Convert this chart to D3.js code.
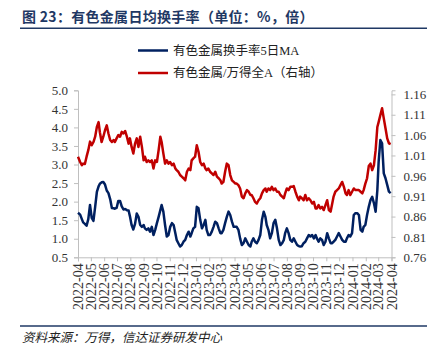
<!DOCTYPE html>
<html>
<head>
<meta charset="utf-8">
<script src="https://cdn.jsdelivr.net/npm/d3@7"></script>
<style>
  html, body { margin: 0; padding: 0; background: #fff; }
  svg { display: block; }
</style>
</head>
<body>
<script>
// trading-day samples
const dates = [
  "2022-04-01","2022-04-06","2022-04-10","2022-04-13","2022-04-17","2022-04-21","2022-04-25","2022-04-29",
  "2022-05-03","2022-05-07","2022-05-11","2022-05-15","2022-05-19","2022-05-22","2022-05-26","2022-05-30",
  "2022-06-03","2022-06-07","2022-06-11","2022-06-15","2022-06-19","2022-06-23","2022-06-26","2022-06-30",
  "2022-07-04","2022-07-08","2022-07-12","2022-07-16","2022-07-20","2022-07-24","2022-07-28","2022-07-31",
  "2022-08-04","2022-08-08","2022-08-12","2022-08-16","2022-08-20","2022-08-24","2022-08-28",
  "2022-09-01","2022-09-04","2022-09-08","2022-09-12","2022-09-16","2022-09-20","2022-09-24","2022-09-28",
  "2022-10-02","2022-10-06","2022-10-10","2022-10-13","2022-10-17","2022-10-21","2022-10-25","2022-10-29",
  "2022-11-02","2022-11-06","2022-11-10","2022-11-14","2022-11-17","2022-11-21","2022-11-25","2022-11-29",
  "2022-12-03","2022-12-07","2022-12-11","2022-12-15","2022-12-19","2022-12-22","2022-12-26","2022-12-30",
  "2023-01-03","2023-01-07","2023-01-11","2023-01-15","2023-01-19","2023-01-23","2023-01-26","2023-01-30",
  "2023-02-03","2023-02-07","2023-02-11","2023-02-15","2023-02-19","2023-02-23","2023-02-27",
  "2023-03-02","2023-03-06","2023-03-10","2023-03-14","2023-03-18","2023-03-22","2023-03-26","2023-03-30",
  "2023-04-03","2023-04-06","2023-04-10","2023-04-14","2023-04-18","2023-04-22","2023-04-26","2023-04-30",
  "2023-05-04","2023-05-08","2023-05-11","2023-05-15","2023-05-19","2023-05-23","2023-05-27","2023-05-31",
  "2023-06-04","2023-06-08","2023-06-12","2023-06-15","2023-06-19","2023-06-23","2023-06-27",
  "2023-07-01","2023-07-05","2023-07-09","2023-07-13","2023-07-17","2023-07-21","2023-07-25","2023-07-28",
  "2023-08-01","2023-08-05","2023-08-09","2023-08-13","2023-08-17","2023-08-21","2023-08-25","2023-08-29",
  "2023-09-01","2023-09-05","2023-09-09","2023-09-13","2023-09-17","2023-09-21","2023-09-25","2023-09-29",
  "2023-10-03","2023-10-07","2023-10-10","2023-10-14","2023-10-18","2023-10-22","2023-10-26","2023-10-30",
  "2023-11-03","2023-11-07","2023-11-11","2023-11-14","2023-11-18","2023-11-22","2023-11-26","2023-11-30",
  "2023-12-04","2023-12-08","2023-12-12","2023-12-16","2023-12-19","2023-12-23","2023-12-27","2023-12-31",
  "2024-01-04","2024-01-08","2024-01-12","2024-01-16","2024-01-20","2024-01-24","2024-01-27","2024-01-31",
  "2024-02-04","2024-02-08","2024-02-12","2024-02-16","2024-02-20","2024-02-24","2024-02-28",
  "2024-03-02","2024-03-06","2024-03-10","2024-03-14","2024-03-18","2024-03-22","2024-03-26","2024-03-30"
];

// 有色金属换手率5日MA (%), left axis
const turnover = [
  1.70,1.65,1.53,1.44,1.40,1.35,1.53,1.91,
  1.56,1.48,1.86,2.26,2.41,2.48,2.52,2.53,
  2.46,2.30,2.23,2.07,1.83,1.82,1.81,1.83,
  2.02,2.02,1.87,1.79,1.80,1.77,1.76,1.61,
  1.37,1.25,1.40,1.68,1.59,1.37,1.32,
  1.37,1.28,1.24,1.28,1.19,1.32,1.10,1.24,
  1.42,1.59,1.77,1.91,1.73,1.37,1.06,1.10,
  1.32,1.42,1.37,1.15,0.97,0.88,0.79,0.83,
  0.92,0.97,1.10,1.19,1.06,1.15,1.28,1.32,
  1.86,1.82,1.51,1.28,1.37,1.51,1.24,1.10,
  1.10,1.19,1.32,1.46,1.42,1.28,1.15,
  1.15,1.24,1.42,1.59,1.73,1.64,1.46,1.32,
  1.32,1.32,1.24,1.01,0.83,0.88,1.01,0.92,
  0.83,0.79,0.92,1.01,0.92,0.88,0.97,1.10,
  1.51,1.73,1.59,1.37,1.24,1.01,1.15,
  1.42,1.51,1.28,0.97,0.83,0.88,0.97,1.15,
  1.28,1.15,0.97,0.92,1.01,0.92,0.83,0.80,
  0.79,0.80,0.88,0.92,1.01,1.10,1.06,1.10,
  1.01,1.10,1.01,0.92,1.01,0.97,0.83,0.92,
  1.15,1.01,0.88,0.88,0.92,0.97,1.06,1.15,
  1.06,0.97,0.92,0.92,1.01,1.10,1.06,1.15,
  1.64,1.69,1.69,1.64,1.24,1.19,1.32,1.37,
  1.64,1.86,2.04,2.13,1.96,1.73,2.31,
  3.07,3.66,3.57,2.76,2.63,2.45,2.27,2.23
];

// 有色金属/万得全A (倍), right axis
const ratio = [
  1.007,0.994,0.986,0.990,0.989,1.007,1.023,1.044,
  1.035,1.043,1.056,1.080,1.092,1.067,1.043,1.056,
  1.072,1.084,1.064,1.048,1.043,1.048,1.043,1.052,
  1.060,1.056,1.068,1.064,1.070,1.056,1.039,1.052,
  1.031,1.015,1.039,1.052,1.031,1.056,1.031,
  0.998,1.007,0.994,0.998,0.994,0.998,0.978,0.998,
  0.994,1.023,1.056,1.043,1.015,0.990,0.998,0.990,
  0.994,0.986,0.990,0.978,0.974,0.970,0.962,0.958,
  0.954,0.949,0.970,0.978,0.974,0.998,1.003,1.007,
  1.035,1.019,0.994,0.986,0.990,0.978,0.974,0.978,
  0.970,0.966,0.962,0.970,0.958,0.954,0.949,
  0.941,0.945,0.970,0.990,0.986,0.962,0.949,0.945,
  0.941,0.941,0.937,0.929,0.909,0.905,0.917,0.925,
  0.921,0.913,0.913,0.905,0.896,0.892,0.900,0.905,
  0.917,0.925,0.929,0.921,0.929,0.925,0.933,
  0.925,0.929,0.921,0.921,0.913,0.909,0.905,0.917,
  0.929,0.925,0.933,0.933,0.935,0.921,0.909,0.900,
  0.909,0.905,0.900,0.913,0.900,0.905,0.900,0.892,
  0.896,0.880,0.880,0.888,0.880,0.884,0.876,0.888,
  0.900,0.876,0.872,0.888,0.909,0.921,0.925,0.929,
  0.937,0.945,0.933,0.917,0.913,0.925,0.913,0.921,
  0.929,0.925,0.925,0.925,0.921,0.917,0.925,0.941,
  0.954,0.984,0.990,0.974,0.986,1.023,1.080,
  1.092,1.109,1.126,1.101,1.077,1.052,1.040,1.038
];

const leftTicks = [0.5, 1.0, 1.5, 2.0, 2.5, 3.0, 3.5, 4.0, 4.5, 5.0];
const rightTicks = [0.76, 0.81, 0.86, 0.91, 0.96, 1.01, 1.06, 1.11, 1.16];
const monthLabels = [
  "2022-04","2022-05","2022-06","2022-07","2022-08","2022-09","2022-10","2022-11","2022-12",
  "2023-01","2023-02","2023-03","2023-04","2023-05","2023-06","2023-07","2023-08","2023-09",
  "2023-10","2023-11","2023-12","2024-01","2024-02","2024-03","2024-04"
];

const seriesNames = ["有色金属换手率5日MA", "有色金属/万得全A（右轴）"];
const blue = "#002060";
const red = "#c00000";

const width = 435, height = 354;
const plot = { left: 78, right: 391.5, top: 90.3, bottom: 257.3 };
const serif = "'Liberation Serif', 'Times New Roman', 'Noto Sans CJK SC', serif";

const parse = d3.timeParse("%Y-%m-%d");
const parseMonth = d3.timeParse("%Y-%m");

const x = d3.scaleTime()
  .domain([parseMonth(monthLabels[0]), parseMonth(monthLabels[monthLabels.length - 1])])
  .range([plot.left, plot.right]);
const yLeft = d3.scaleLinear().domain([0.5, 5.0]).range([plot.bottom, plot.top]);
const yRight = d3.scaleLinear().domain([0.76, 1.17]).range([plot.bottom, plot.top]);

const svg = d3.select("body").append("svg")
  .attr("width", width)
  .attr("height", height);

svg.append("rect").attr("width", width).attr("height", height).attr("fill", "#fff");

// title + rule
svg.append("text")
  .attr("x", 22)
  .attr("y", 21.5)
  .attr("font-family", "'Noto Sans CJK SC', sans-serif")
  .attr("font-size", 14)
  .attr("font-weight", "bold")
  .attr("letter-spacing", 0.3)
  .attr("fill", "#1f3864")
  .text("图 23：有色金属日均换手率（单位：%，倍）");

svg.append("line")
  .attr("x1", 20).attr("x2", 427)
  .attr("y1", 28.3).attr("y2", 28.3)
  .attr("stroke", "#1f3864")
  .attr("stroke-width", 1.5);

// legend
const legend = svg.append("g").selectAll("g")
  .data(seriesNames)
  .enter()
  .append("g")
  .attr("transform", (d, i) => `translate(138, ${50.5 + i * 22.5})`);

legend.append("line")
  .attr("x1", 0).attr("x2", 30)
  .attr("stroke", (d, i) => i === 0 ? blue : red)
  .attr("stroke-width", 2.5);

legend.append("text")
  .attr("x", 35)
  .attr("dy", "0.35em")
  .attr("font-family", serif)
  .attr("font-size", 12.5)
  .attr("fill", "#222")
  .text(d => d);

// axes
const axisColor = "#bfbfbf";
const labelColor = "#333";

const gLeft = svg.append("g")
  .attr("transform", `translate(${plot.left},0)`)
  .call(d3.axisLeft(yLeft).tickValues(leftTicks).tickFormat(d3.format(".1f")).tickSizeOuter(0).tickSize(4).tickPadding(6));

const gRight = svg.append("g")
  .attr("transform", `translate(${plot.right},0)`)
  .call(d3.axisRight(yRight).tickValues(rightTicks).tickFormat(d3.format(".2f")).tickSizeOuter(0).tickSize(4).tickPadding(8));

const gBottom = svg.append("g")
  .attr("transform", `translate(0,${plot.bottom})`)
  .call(d3.axisBottom(x).tickValues(monthLabels.map(parseMonth)).tickFormat(d3.timeFormat("%Y-%m")).tickSizeOuter(0).tickSize(4));

[gLeft, gRight, gBottom].forEach(g => {
  g.select(".domain").attr("stroke", axisColor).attr("stroke-width", 1);
  g.selectAll(".tick line").attr("stroke", axisColor);
  g.selectAll("text")
    .attr("font-family", serif)
    .attr("font-size", 13)
    .attr("fill", labelColor);
});

gBottom.selectAll("text")
  .attr("font-size", 14)
  .attr("transform", "rotate(-90)")
  .attr("text-anchor", "end")
  .attr("x", -6)
  .attr("y", 0)
  .attr("dy", "0.33em");

// series
const points = dates.map((d, i) => ({ date: parse(d), turnover: turnover[i], ratio: ratio[i] }));

const lineLeft = d3.line().x(d => x(d.date)).y(d => yLeft(d.turnover));
const lineRight = d3.line().x(d => x(d.date)).y(d => yRight(d.ratio));

svg.append("path")
  .datum(points)
  .attr("d", lineLeft)
  .attr("fill", "none")
  .attr("stroke", blue)
  .attr("stroke-width", 2.5)
  .attr("stroke-linejoin", "round");

svg.append("path")
  .datum(points)
  .attr("d", lineRight)
  .attr("fill", "none")
  .attr("stroke", red)
  .attr("stroke-width", 2.5)
  .attr("stroke-linejoin", "round");

// footer
svg.append("line")
  .attr("x1", 20).attr("x2", 427)
  .attr("y1", 326).attr("y2", 326)
  .attr("stroke", "#1f3864")
  .attr("stroke-width", 1.5);

svg.append("text")
  .attr("x", 22)
  .attr("y", 341.5)
  .attr("font-family", "'Noto Sans CJK SC', sans-serif")
  .attr("font-size", 12.5)
  .attr("font-style", "italic")
  .attr("fill", "#222")
  .text("资料来源：万得，信达证券研发中心");
</script>
</body>
</html>
